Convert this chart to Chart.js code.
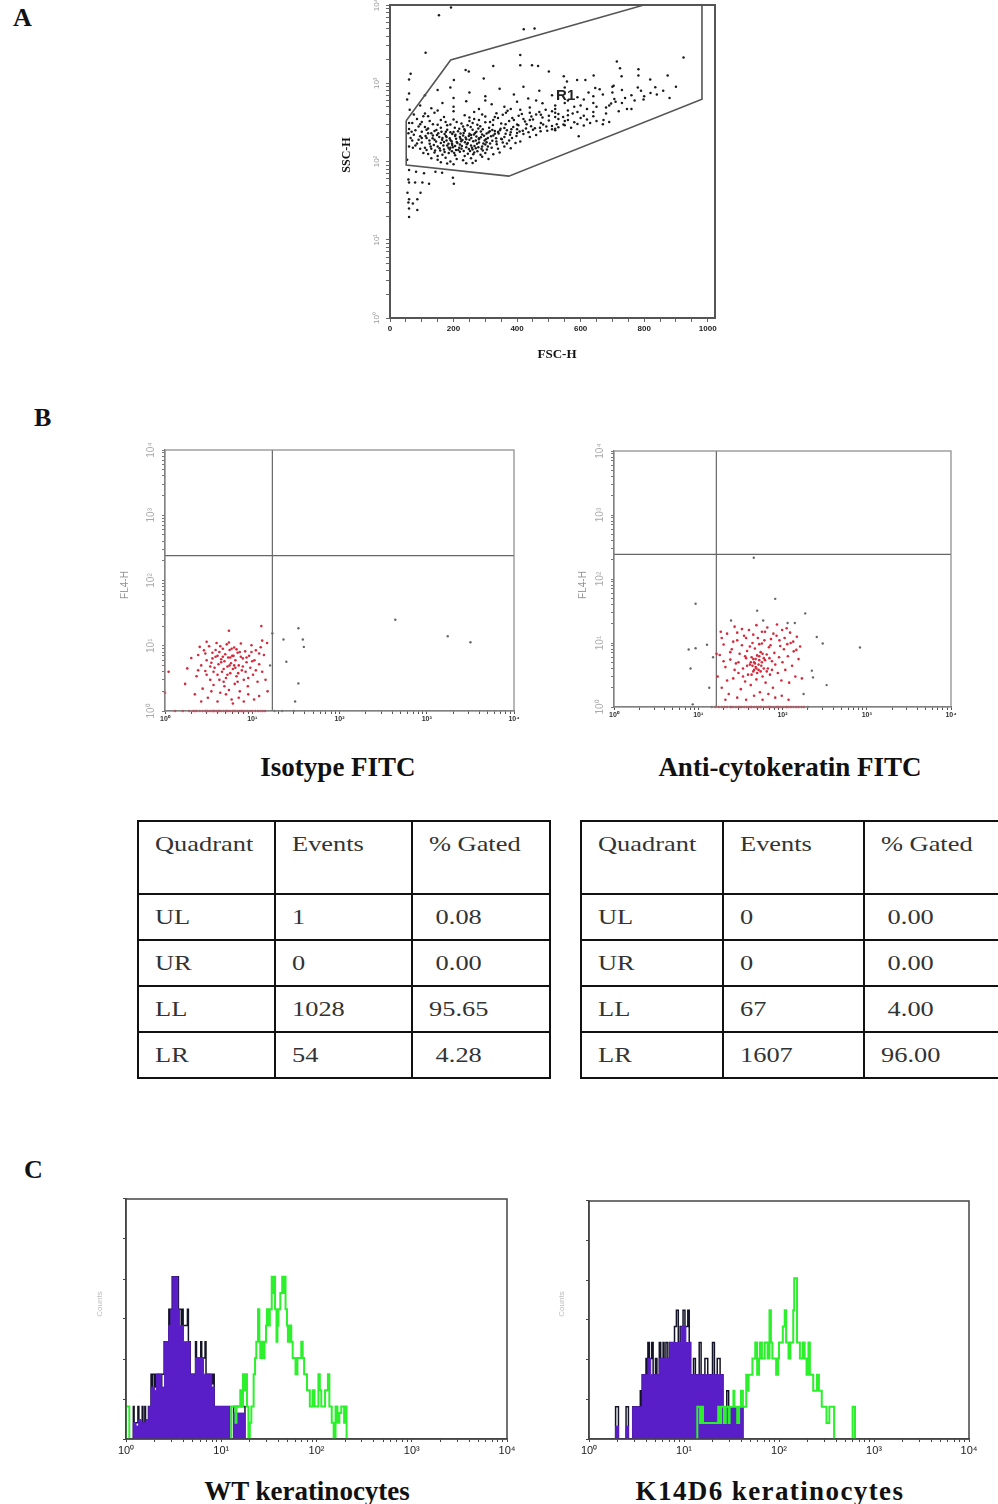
<!DOCTYPE html>
<html>
<head>
<meta charset="utf-8">
<script src="https://cdn.jsdelivr.net/npm/chart.js@4.4.0/dist/chart.umd.min.js"></script>
<style>
body { margin:0; width:998px; height:1504px; position:relative; overflow:hidden; background:#fff; }
.box { position:absolute; }
.lbl { position:absolute; font-family:"Liberation Serif", serif; font-weight:bold; color:#111; white-space:nowrap; line-height:1; }
.ttl { text-align:center; width:400px; font-size:27px; }
.rot { transform:rotate(-90deg); transform-origin:center center; }
table.q { position:absolute; border-collapse:collapse; font-family:"Liberation Serif", serif; font-size:22px; color:#333; table-layout:fixed; }
table.q td { border:2.5px solid #111; padding:0 0 0 16px; vertical-align:middle; white-space:pre; overflow:hidden; }
table.q tr.h td { vertical-align:top; padding-top:9px; }
table.q span { display:inline-block; transform:scaleX(1.2); transform-origin:left center; }
</style>
</head>
<body>

<div class="lbl" style="left:13px;top:5px;font-size:26px;">A</div>
<div class="lbl" style="left:34px;top:405px;font-size:26px;">B</div>
<div class="lbl" style="left:24px;top:1157px;font-size:26px;">C</div>

<div class="box" style="left:330px;top:0px;"><canvas id="cA" width="400" height="370"></canvas></div>
<div class="lbl rot" style="left:326px;top:149px;font-size:12px;width:40px;text-align:center;">SSC-H</div>
<div class="lbl" style="left:517px;top:347px;font-size:13px;width:80px;text-align:center;">FSC-H</div>

<div class="box" style="left:100px;top:430px;"><canvas id="cB1" width="430" height="300"></canvas></div>
<div class="box" style="left:560px;top:430px;"><canvas id="cB2" width="420" height="300"></canvas></div>
<div class="lbl rot" style="left:105px;top:580px;font-size:10px;width:40px;text-align:center;color:#999;font-weight:normal;font-family:'Liberation Sans';">FL4-H</div>
<div class="lbl rot" style="left:563px;top:580px;font-size:10px;width:40px;text-align:center;color:#999;font-weight:normal;font-family:'Liberation Sans';">FL4-H</div>
<div class="lbl ttl" style="left:138px;top:754px;">Isotype FITC</div>
<div class="lbl ttl" style="left:590px;top:754px;">Anti-cytokeratin FITC</div>

<div id="tables"></div>

<div class="box" style="left:70px;top:1180px;"><canvas id="cC1" width="460" height="290"></canvas></div>
<div class="box" style="left:530px;top:1180px;"><canvas id="cC2" width="460" height="290"></canvas></div>
<div class="lbl rot" style="left:80px;top:1300px;font-size:8px;width:40px;text-align:center;color:#bbb;font-weight:normal;font-family:'Liberation Sans';">Counts</div>
<div class="lbl rot" style="left:542px;top:1300px;font-size:8px;width:40px;text-align:center;color:#bbb;font-weight:normal;font-family:'Liberation Sans';">Counts</div>
<div class="lbl ttl" style="left:107px;top:1478px;">WT keratinocytes</div>
<div class="lbl ttl" style="left:570px;top:1478px;letter-spacing:1.4px;">K14D6 keratinocytes</div>

<script>
// ---- panel A : FSC-H / SSC-H dot plot with gate R1 ----
const fscTickLabels = [0, 200, 400, 600, 800, 1000];
const gateFSC = [51, 191, 799, 982, 982, 374, 51, 51];
const gateSSC = [332, 1982, 10000, 10000, 624, 65, 90, 332];
const r1Pos = [553, 690];
const fscSsc = [
  [150,105],[175,112],[190,100],[210,108],[230,104],[255,110],[270,102],[290,115],[160,98],[240,95],[200,92],[310,108],[130,110],[180,94],[260,96],
  [120,125],[140,130],[165,122],[185,128],[205,120],[220,133],[245,126],[265,130],[285,122],[300,128],[325,124],[150,118],[235,118],[195,135],[275,135],[345,130],[105,128],
  [110,150],[130,145],[150,155],[170,142],[190,150],[205,158],[225,145],[240,152],[255,160],[270,148],[290,156],[305,142],[320,150],[340,145],[360,155],[180,160],[215,140],[260,142],[95,145],[380,148],
  [100,175],[125,168],[145,180],[160,172],[178,185],[195,170],[210,178],[228,188],[245,172],[262,182],[280,175],[298,186],[315,170],[335,180],[355,175],[375,185],[395,172],[140,190],[220,165],[300,165],[410,180],[85,170],[250,190],[190,188],
  [95,210],[115,200],[135,215],[155,205],[172,225],[188,198],[205,212],[222,228],[238,202],[255,218],[272,208],[290,222],[308,200],[325,215],[342,228],[360,205],[378,220],[398,212],[420,225],[440,205],[165,200],[280,198],[350,195],[75,220],[460,218],[230,215],
  [80,250],[100,240],[120,265],[140,245],[160,270],[180,255],[200,238],[218,262],[236,248],[254,275],[272,240],[292,258],[312,270],[330,245],[348,262],[368,250],[388,275],[408,242],[428,265],[450,255],[472,270],[495,248],[110,275],[260,255],[400,258],[520,262],[60,260],[310,235],
  [70,310],[95,300],[125,330],[150,295],[175,320],[200,345],[225,305],[250,330],[275,295],[300,318],[325,340],[350,305],[375,330],[400,298],[425,325],[450,345],[475,310],[500,335],[525,300],[550,330],[580,318],[620,345],[190,298],[280,340],[430,300],[530,350],
  [75,400],[105,380],[140,420],[170,370],[200,440],[235,390],[265,430],[300,375],[335,415],[370,445],[405,385],[440,420],[475,395],[510,440],[545,370],[575,410],[610,385],[640,430],[560,450],[480,365],[150,450],[250,365],[520,420],
  [95,520],[130,480],[165,560],[200,500],[240,590],[280,470],[320,540],[360,500],[400,580],[440,490],[480,555],[520,470],[560,600],[600,520],[640,560],[680,490],[710,580],[380,470],[300,600],[460,600],
  [110,700],[150,820],[200,650],[250,760],[300,680],[345,850],[390,720],[435,640],[470,800],[510,700],[550,880],[590,660],[625,760],[660,840],[700,900],[740,650],[780,880],[820,750],[190,880],[420,900],
  [158,138],[172,132],[188,142],[202,128],[218,150],[232,136],[248,144],[262,124],[278,152],[292,138],[168,160],[184,168],[198,152],[212,172],[226,158],[242,166],[258,150],[274,168],[288,146],[304,176],
  [164,190],[178,205],[194,182],[208,196],[224,182],[240,192],[256,200],[270,186],[286,204],[302,192],[318,210],[334,198],[176,240],[196,225],[214,244],[232,232],[250,226],[268,232],[286,242],[304,228],
  [322,252],[340,238],[360,268],[380,236],[152,230],[138,162],[124,185],[112,212],[146,252],[204,270],[244,290],[284,282],[324,292],[364,300],[404,290],[444,282],[482,296],[510,285],[546,298],[420,350],
  [115,140],[128,155],[142,138],[156,148],[170,178],[184,150],[196,162],[208,140],[222,196],[236,176],[252,136],[266,158],[280,192],[294,170],[308,156],[322,184],[336,166],[352,192],[368,170],[384,200],
  [120,230],[134,198],[148,218],[162,240],[176,212],[190,236],[206,220],[220,206],[234,258],[248,212],[264,222],[278,264],[296,214],[314,244],[330,226],[346,250],[364,226],[382,258],[400,232],[418,248],
  [436,236],[456,266],[474,244],[492,280],[510,258],[530,274],[550,290],[570,270],[590,302],[610,288],[630,310],[650,330],[670,300],[690,320],[560,340],[600,360],[640,380],[680,410],[720,440],[760,470],
  [330,370],[355,395],[385,360],[415,405],[445,375],[470,430],[500,385],[530,405],[560,390],[590,430],[620,470],[650,500],[690,520],[730,560],[770,600],[800,680],[840,720],[860,800],[880,650],[900,900],
  [265,350],[290,400],[315,320],[340,360],[365,420],[390,340],[410,460],[440,340],[460,400],[490,460],[520,520],[550,560],[580,500],[610,620],[640,680],[670,720],[700,760],[730,820],[760,700],[790,800],
  [100,320],[90,280],[85,350],[120,380],[135,300],[110,410],[160,340],[180,290],[210,320],[230,280],[260,310],[130,230],[115,255],[100,200],[90,190],[80,160],[70,185],[68,240],[65,200],[72,150],
  [714,1900],[724,1550],[729,1230],[782,1510],[782,1260],[819,1120],[835,890],[874,1260],[924,2140],[704,930],[706,630],[746,470],[798,620],[672,340],[696,550],[646,870],[641,1260],[615,1100],
  [589,1100],[557,1050],[547,1230],[500,1410],[466,1660],[447,1700],[410,2290],[410,1700],[421,4900],[455,5000],[325,1660],[295,1150],[248,1410],[238,1480],[201,1100],[112,2450],[154,7400],[192,9300],
  [65,1320],[60,1120],[594,210],[520,250],[520,370],
  [60,78],[58,59],[60,54],[55,40],[58,30],[60,25],[60,19.5],[86,24],[86,33],[96,40],[79,54],[82,74],[102,54],[123,52],[201,52],[198,62],[164,72],[143,74],[107,71],[72,29],[60,33],
  [54,105],[60,155],[58,230],[60,310],[62,457],[54,620],[60,740]
];

// ---- panel B : FL1-H / FL4-H quadrant plots ----
const isoQuad = [17, 240];
const antiQuad = [16.4, 243];
const isoRed = [
  [1.3,1],[1.6,1],[1.9,1],[2.1,1],[2.2,1],[2.3,1],[2.5,1],[2.7,1],[2.9,1],[3.0,1],[3.1,1],[3.3,1],[3.5,1],[3.6,1],[3.7,1],[3.9,1],[4.1,1],[4.2,1],[4.4,1],[4.7,1],
  [5.0,1],[5.1,1],[5.3,1],[5.6,1],[6.0,1],[6.2,1],[6.4,1],[6.8,1],[7.2,1],[7.5,1],[7.7,1],[8.2,1],[8.8,1],[9.4,1],[10,1],[10.8,1],[11.6,1],[12.4,1],[13.2,1],[14,1],
  [2.0,6.5],[2.3,3.4],[2.4,7.2],[2.6,5.0],[2.7,2.2],[2.8,8.5],[2.9,4.1],[3.0,6.0],[3.1,1.6],[3.2,9.8],[3.3,3.0],[3.4,5.5],[3.5,7.8],[3.6,2.5],[3.7,4.6],[3.8,6.8],[3.9,11],[4.0,3.6],[4.1,5.2],[4.2,8.0],
  [4.3,1.9],[4.4,6.2],[4.5,4.0],[4.6,9.0],[4.7,2.8],[4.8,5.8],[4.9,7.4],[5.0,3.2],[5.1,10.5],[5.2,4.8],[5.3,6.6],[5.4,2.1],[5.5,8.6],[5.6,3.8],[5.7,5.4],[5.8,1.5],[5.9,7.0],[6.0,4.4],[6.2,9.4],[6.3,2.6],
  [6.4,6.0],[6.6,3.4],[6.8,7.8],[7.0,5.0],[7.2,2.0],[7.4,10.8],[7.6,4.2],[7.8,6.4],[8.0,3.0],[8.3,8.2],[8.6,5.6],[8.9,2.4],[9.2,7.0],[9.5,4.6],[9.8,10.2],[10.2,3.6],[10.6,6.0],[11,8.5],[11.5,2.8],[12,5.2],
  [12.5,9.5],[13,4.0],[13.6,7.2],[14.2,3.0],[14.8,11],[15,2.0],[1.8,4.5],[1.7,2.6],[2.2,1.8],[2.5,9.6],[3.0,11.5],[3.6,4.0],[4.2,3.0],[4.8,2.4],[5.6,6.6],[6.6,8.8],[7.8,4.8],[9,3.2],[10,5.8],[11,4.2],
  [12,7.6],[13,12],[2.9,7.6],[3.8,8.6],[4.6,6.8],[5.4,11.2],[6.2,5.0],[7.4,6.8],[8.4,4.0],[9.8,8.0],[3.4,2.0],[4.0,1.4],[5.0,1.8],[6.0,1.3],[7.0,1.6],[8.0,1.4],[9,1.8],[10.5,1.5],[12,1.7],[2.6,1.4],
  [3.3,4.8],[4.4,5.6],[5.2,3.6],[6.8,2.8],[3.0,3.6],[4.0,7.0],[4.7,4.4],[5.8,9.0],[6.4,4.6],[7.2,8.0],[8.6,6.6],[2.4,4.2],[3.5,6.4],[4.3,9.8],[5.5,5.0],[6.1,7.0],[6.9,3.8],[5.4,17],[12.7,20],[1.1,4],[1.0,1.9]
];
const isoGrey = [
  [17,15.5],[22.8,12.5],[33.8,18.5],[38,12.5],[39,9.6],[24.6,5.7],[33.8,2.65],[31,1.4],[436,25],[1740,14],[3170,11.3],[18,1],[22,1],[30,1],[16,5]
];
const antiRed = [
  [16,1],[17.5,1],[19,1],[20.5,1],[22,1],[24,1],[24.5,1],[26,1],[28,1],[30,1],[31,1],[32.5,1],[35,1],[37.5,1],[40,1],[42,1],[43,1],[46,1],[49,1],[52,1],[55,1],
  [56,1],[60,1],[64,1],[68,1],[70,1],[73,1],[78,1],[84,1],[88,1],[90,1],[96,1],[103,1],[110,1],[112,1],[118,1],[126,1],[135,1],[145,1],[155,1],[168,1],[180,1],
  [17,3.0],[18,6.5],[19,2.0],[20,9.5],[21,4.2],[22,14],[23,1.6],[24,5.5],[25,8.0],[26,2.8],[27,18],[28,4.8],[29,11],[30,3.4],[31,6.8],[32,1.9],[33,9.2],[34,4.0],[35,13],[36,2.5],
  [37,5.8],[38,7.5],[39,3.2],[40,16],[41,4.6],[42,2.2],[43,6.0],[44,10],[45,3.6],[46,5.0],[47,8.2],[48,4.2],[49,2.7],[50,6.4],[51,12],[52,3.8],[53,5.4],[54,1.7],[55,7.2],[56,4.4],
  [57,9.8],[58,3.0],[60,5.8],[62,15],[63,2.4],[65,6.6],[67,4.0],[69,8.6],[71,3.2],[73,11.5],[75,5.2],[77,2.0],[80,7.0],[82,4.6],[85,13],[88,3.4],[91,6.0],[94,9.0],[97,2.6],[100,5.0],
  [104,8.0],[108,3.8],[112,17],[116,6.2],[120,2.4],[125,10],[130,4.4],[136,7.4],[142,3.0],[148,12.5],[155,5.6],[162,8.8],[170,2.8],
  [44,4.4],[46,3.8],[47,4.8],[48,5.6],[49,4.0],[50,3.4],[52,4.6],[53,6.2],[45,5.6],[43,3.2],[55,3.6],[57,5.0],[58,6.8],[60,4.0],[42,5.0],[38,4.4],[36,6.2],[34,3.0],[62,5.4],[65,3.6],
  [70,5.8],[75,3.8],[30,5.0],[27,3.8],[24,7.2],[22,2.6],[20,5.2],[19,12],[26,10.5],[29,14.5],[33,16.5],[37,12],[41,8.8],[45,13.5],[49,19],[53,9.6],[57,15],[61,11],[66,17.5],[72,9.2],
  [78,14],[86,19.5],[92,11],[99,16],[106,12],[114,9.6],[123,14.5],[134,10.5],[146,7.8],[16.5,6.8],[18.5,15],[21,1.3],[29,1.4],[37,1.3],[46,1.5],[58,1.3],[68,1.6],[82,1.4],[98,1.5],[118,1.3]
];
const antiGrey = [
  [45.6,215],[82,49],[50,32],[186,29],[9.3,41],[7.7,7.9],[9.3,8.3],[12.7,9.4],[8.1,4],[8.6,1.1],[830,8.5],[334,2.2],[300,9.8],[223,3.7],[230,2.9],[178,1.6],
  [255,12.4],[24.5,22.5],[59,22.5],[115,20.5],[140,20.5],[200,1],[14.5,1],[15,6],[13.5,2]
];

// ---- panel B : quadrant statistics ----
const quadrants = ['UL', 'UR', 'LL', 'LR'];
const tableHeads = ['Quadrant', 'Events', '% Gated'];
const isoEvents = [1, 0, 1028, 54];
const isoGated = [0.08, 0.00, 95.65, 4.28];
const antiEvents = [0, 0, 67, 1607];
const antiGated = [0.00, 0.00, 4.00, 96.00];

// ---- panel C : FL1-H histograms, [log10 channel, count] steps ----
const histYMax = 7.4;
const wtBlack = [[0.077,1],[0.085,0.5],[0.125,1],[0.135,0.5],[0.17,1],[0.178,0.5],[0.198,1],[0.205,0.5],[0.236,1],[0.263,2],[0.275,1.5],[0.28,2],[0.3,1.6],[0.31,2],[0.36,2],[0.37,1.6],[0.375,2],[0.4,3],[0.45,4],[0.46,3.5],[0.47,4],[0.485,5],[0.55,4],[0.58,3.5],[0.59,4],[0.6,3.5],[0.645,4],[0.655,3],[0.674,2],[0.73,3],[0.74,2.5],[0.785,3],[0.795,2.5],[0.83,3],[0.84,2],[0.9,1.7],[0.91,2],[0.926,1],[1.088,0],[1.13,1],[1.249,0]];
const wtPurple = [[0.077,0.5],[0.105,0.4],[0.133,0.6],[0.158,0.5],[0.21,0.6],[0.239,1],[0.263,1.6],[0.3,1.5],[0.32,2],[0.37,1.6],[0.404,3],[0.449,3.5],[0.47,4],[0.491,5],[0.544,4],[0.561,3.5],[0.604,3],[0.674,2],[0.73,2.5],[0.814,2],[0.9,1.6],[0.926,1],[1.088,0],[1.13,0.8],[1.249,0]];
const wtGreen = [[0,1],[0.035,0],[0.5,null],[1.105,0],[1.105,1],[1.15,0.5],[1.16,1],[1.2,1.5],[1.21,1],[1.228,2],[1.245,1.5],[1.255,2],[1.27,1],[1.285,0],[1.3,0.5],[1.316,1],[1.34,2],[1.355,2.5],[1.368,3],[1.386,4],[1.40,3],[1.41,2.5],[1.42,3],[1.44,2.5],[1.455,3],[1.47,3.5],[1.48,4],[1.5,3.5],[1.51,4],[1.53,5],[1.545,4.5],[1.555,5],[1.565,4],[1.58,3],[1.59,3.5],[1.60,4],[1.62,4.5],[1.64,5],[1.655,4.5],[1.665,5],[1.675,4],[1.69,3.5],[1.70,3],[1.72,3.5],[1.735,3],[1.75,2.5],[1.78,2],[1.8,2.5],[1.84,3],[1.855,2.5],[1.87,2],[1.9,1.5],[1.93,1],[1.96,1.5],[1.98,1],[2.02,2],[2.035,1.5],[2.05,1],[2.09,1.5],[2.12,2],[2.135,1],[2.16,0.5],[2.18,0],[2.2,1],[2.22,0.5],[2.24,0.8],[2.26,1],[2.29,0.5],[2.3,1],[2.316,0]];
const k14Black = [[0.28,1],[0.31,0],[0.39,1],[0.415,0],[0.46,1],[0.54,1.5],[0.55,1],[0.56,2],[0.6,2.5],[0.61,2],[0.62,3],[0.635,2.5],[0.66,3],[0.675,2],[0.7,2.5],[0.715,2],[0.74,3],[0.755,2.5],[0.78,3],[0.79,2.5],[0.81,3],[0.83,2.5],[0.85,3],[0.9,3.5],[0.92,4],[0.94,3],[0.96,3.5],[0.99,4],[1.01,3.5],[1.04,4],[1.055,3],[1.07,2],[1.1,2.5],[1.12,2],[1.16,3],[1.18,2],[1.22,2.5],[1.25,2],[1.3,3],[1.32,2],[1.35,2.5],[1.38,2],[1.41,1],[1.45,1.5],[1.47,1],[1.62,0]];
const k14Purple = [[0.28,0.4],[0.31,0],[0.39,0.4],[0.415,0],[0.46,1],[0.56,2],[0.62,2.5],[0.65,2],[0.74,2.5],[0.85,3],[0.97,3.5],[1.02,3],[1.07,2],[1.41,1],[1.62,0]];
const k14Green = [[1.14,0],[1.14,1],[1.17,0.5],[1.18,1],[1.2,0.5],[1.36,1],[1.38,0.5],[1.39,1],[1.42,0.5],[1.44,1],[1.47,0.5],[1.48,1],[1.52,1.5],[1.53,1],[1.56,0.5],[1.58,1],[1.6,1.5],[1.62,1],[1.655,2],[1.67,1.5],[1.68,2],[1.72,2.5],[1.75,3],[1.77,2],[1.79,2.5],[1.8,3],[1.82,2.5],[1.85,3],[1.88,2.5],[1.9,4],[1.915,3],[1.93,2.5],[1.97,2],[1.99,2.5],[2.0,3],[2.04,3.5],[2.06,4],[2.075,3],[2.1,2.5],[2.12,3],[2.15,4],[2.16,5],[2.19,3],[2.22,2.5],[2.25,3],[2.27,2.5],[2.29,2],[2.31,3],[2.325,2],[2.36,1.5],[2.4,2],[2.42,1.5],[2.45,1],[2.5,0.5],[2.53,1],[2.58,0],[2.6,null],[2.775,0],[2.775,1],[2.8,0]];

// ---------------------------------------------------------------
const sup = ['\u2070', '\u00b9', '\u00b2', '\u00b3', '\u2074'];
const decadeLabel = v => {
  const e = Math.log10(v), r = Math.round(e);
  return Math.abs(e - r) < 1e-6 ? '10' + sup[r] : '';
};
// tick marks 1..9 per decade, 10^0 to 10^4
const logTicks = [];
for (let e = 0; e < 4; e++) for (let m = 1; m < 10; m++) logTicks.push(m * Math.pow(10, e));
logTicks.push(10000);

const pts = arr => arr.map(p => ({ x: p[0], y: p[1] }));
const steps = arr => [{ x: Math.pow(10, arr[0][0]), y: 0 }].concat(arr.map(p => ({ x: Math.pow(10, p[0]), y: p[1] })));

// fixes axis box size so the plot area lands where it should
function fit(size, vertical) {
  return s => {
    if (vertical) { s.width = size; s.paddingTop = 0; s.paddingBottom = 0; }
    else { s.height = size; s.paddingLeft = 0; s.paddingRight = 0; }
  };
}
const setTicks = list => s => { s.ticks = list.map(v => ({ value: v })); };

const framePlugin = {
  id: 'frame',
  afterDatasetsDraw(chart, args, opts) {
    const a = chart.chartArea, c = chart.ctx;
    c.save();
    c.strokeStyle = opts.color; c.lineWidth = opts.width;
    c.strokeRect(a.left, a.top, a.right - a.left, a.bottom - a.top);
    c.restore();
  }
};

function base(pad, frame) {
  return {
    responsive: false, animation: false, devicePixelRatio: 1, events: [],
    layout: { padding: { left: 0, right: pad[1], top: pad[2], bottom: 0 } },
    plugins: { legend: { display: false }, tooltip: { enabled: false }, frame: frame }
  };
}

// panel A
const fscMinor = [];
for (let v = 0; v <= 1000; v += 50) fscMinor.push(v);
const optA = base([60, 15, 5, 52], { color: '#555', width: 2 });
optA.scales = {
  x: {
    type: 'linear', min: 0, max: 1023, afterBuildTicks: setTicks(fscMinor), afterFit: fit(52, false),
    ticks: { autoSkip: false, maxRotation: 0, padding: 2, color: '#222',
      font: { family: 'Liberation Sans', weight: 'bold', size: 8 },
      callback: v => fscTickLabels.includes(v) ? String(v) : '' },
    grid: { drawOnChartArea: false, tickLength: 4, color: '#666' },
    border: { color: '#555', width: 2 }
  },
  y: {
    type: 'logarithmic', min: 1, max: 10000, afterBuildTicks: setTicks(logTicks), afterFit: fit(60, true),
    ticks: { autoSkip: false, minRotation: 90, maxRotation: 90, crossAlign: 'center', padding: 3, color: '#999',
      font: { family: 'Liberation Sans', size: 8 }, callback: decadeLabel },
    grid: { drawOnChartArea: false, tickLength: 4, color: '#666' },
    border: { color: '#555', width: 2 }
  }
};
const r1Plugin = {
  id: 'r1',
  afterDatasetsDraw(chart) {
    const c = chart.ctx;
    c.save();
    c.font = 'bold 15px "Liberation Sans"';
    c.fillStyle = '#222'; c.textAlign = 'center'; c.textBaseline = 'middle';
    c.fillText('R1', chart.scales.x.getPixelForValue(r1Pos[0]), chart.scales.y.getPixelForValue(r1Pos[1]));
    c.restore();
  }
};
new Chart(document.getElementById('cA'), {
  type: 'scatter',
  data: { datasets: [
    { data: gateFSC.map((x, i) => ({ x: x, y: gateSSC[i] })), showLine: true, pointRadius: 0, borderColor: '#555', borderWidth: 1.6, clip: 4 },
    { data: pts(fscSsc), pointRadius: 1.25, pointBorderWidth: 0, pointBackgroundColor: '#1a1a1a', backgroundColor: '#1a1a1a' }
  ] },
  options: optA,
  plugins: [framePlugin, r1Plugin]
});

// panel B
function quadChart(id, pad, red, grey, quad) {
  const o = base(pad, { color: '#888', width: 1.2 });
  o.scales = {
    x: {
      type: 'logarithmic', min: 1, max: 10000, afterBuildTicks: setTicks(logTicks), afterFit: fit(pad[3], false),
      ticks: { autoSkip: false, maxRotation: 0, padding: 1, color: '#333',
        font: { family: 'Liberation Sans', weight: 'bold', size: 7 }, callback: decadeLabel },
      grid: { drawOnChartArea: false, tickLength: 3, color: '#555' },
      border: { color: '#777', width: 1.2 }
    },
    y: {
      type: 'logarithmic', min: 1, max: 10000, afterBuildTicks: setTicks(logTicks), afterFit: fit(pad[0], true),
      ticks: { autoSkip: false, minRotation: 90, maxRotation: 90, crossAlign: 'center', padding: 3, color: '#aaa',
        font: { family: 'Liberation Sans', size: 10 }, callback: decadeLabel },
      grid: { drawOnChartArea: false, tickLength: 3, color: '#777' },
      border: { color: '#777', width: 1.2 }
    }
  };
  new Chart(document.getElementById(id), {
    type: 'scatter',
    data: { datasets: [
      { data: pts(red), pointRadius: 1.3, pointBorderWidth: 0, pointBackgroundColor: '#d42a3c', backgroundColor: '#d42a3c', clip: 4 },
      { data: pts(grey), pointRadius: 1.2, pointBorderWidth: 0, pointBackgroundColor: '#666', backgroundColor: '#666', clip: 4 },
      { data: [{ x: quad[0], y: 1 }, { x: quad[0], y: 10000 }], showLine: true, pointRadius: 0, borderColor: '#666', borderWidth: 1.2 },
      { data: [{ x: 1, y: quad[1] }, { x: 10000, y: quad[1] }], showLine: true, pointRadius: 0, borderColor: '#666', borderWidth: 1.2 }
    ] },
    options: o,
    plugins: [framePlugin]
  });
}
quadChart('cB1', [65, 16, 20, 19], isoRed, isoGrey, isoQuad);
quadChart('cB2', [54, 29, 21, 23], antiRed, antiGrey, antiQuad);

// tables
function quadTable(left, widths, events, gated) {
  const t = document.createElement('table');
  t.className = 'q';
  t.style.left = left + 'px';
  t.style.top = '820px';
  t.style.width = widths.reduce((a, b) => a + b, 0) + 'px';
  const cg = document.createElement('colgroup');
  widths.forEach(w => { const c = document.createElement('col'); c.style.width = w + 'px'; cg.appendChild(c); });
  t.appendChild(cg);
  const rows = [tableHeads].concat(quadrants.map((q, i) => [q, String(events[i]), gated[i].toFixed(2).padStart(5, ' ')]));
  rows.forEach((r, i) => {
    const tr = document.createElement('tr');
    if (i === 0) tr.className = 'h';
    tr.style.height = (i === 0 ? 73 : 46) + 'px';
    r.forEach(txt => {
      const td = document.createElement('td');
      const sp = document.createElement('span');
      sp.textContent = txt;
      td.appendChild(sp);
      tr.appendChild(td);
    });
    t.appendChild(tr);
  });
  document.getElementById('tables').appendChild(t);
}
quadTable(137, [137, 137, 138], isoEvents, isoGated);
quadTable(580, [142, 141, 140], antiEvents, antiGated);

// panel C
function histChart(id, pad, black, purple, green) {
  const o = base(pad, { color: '#444', width: 1.5 });
  const yTicks = [0, 1, 2, 3, 4, 5, 6].map(i => i * histYMax / 6);
  o.scales = {
    x: {
      type: 'logarithmic', min: 1, max: 10000, afterBuildTicks: setTicks(logTicks), afterFit: fit(pad[3], false),
      ticks: { autoSkip: false, maxRotation: 0, padding: 2, color: '#222',
        font: { family: 'Liberation Sans', size: 11 }, callback: decadeLabel },
      grid: { drawOnChartArea: false, tickLength: 3, color: '#444' },
      border: { color: '#444', width: 1.5 }
    },
    y: {
      type: 'linear', min: 0, max: histYMax, afterBuildTicks: setTicks(yTicks), afterFit: fit(pad[0], true),
      ticks: { autoSkip: false, callback: () => '' },
      grid: { drawOnChartArea: false, tickLength: 3, color: '#444' },
      border: { color: '#444', width: 1.5 }
    }
  };
  new Chart(document.getElementById(id), {
    type: 'line',
    data: { datasets: [
      { data: steps(green), stepped: true, borderColor: '#2cf02c', borderWidth: 2, pointRadius: 0, fill: false, spanGaps: false },
      { data: steps(purple), stepped: true, borderColor: '#5a1ec8', borderWidth: 1, pointRadius: 0, fill: 'origin', backgroundColor: '#5a1ec8' },
      { data: steps(black), stepped: true, borderColor: '#141428', borderWidth: 1.5, pointRadius: 0, fill: false }
    ] },
    options: o,
    plugins: [framePlugin]
  });
}
histChart('cC1', [56, 23, 19, 31], wtBlack, wtPurple, wtGreen);
histChart('cC2', [59, 21, 21, 31], k14Black, k14Purple, k14Green);
</script>
</body>
</html>
